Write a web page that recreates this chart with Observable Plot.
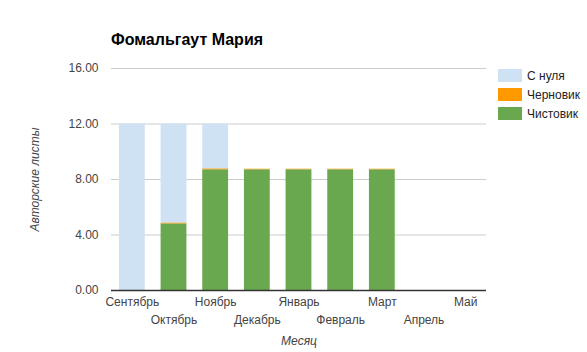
<!DOCTYPE html>
<html><head><meta charset="utf-8">
<script src="https://cdn.jsdelivr.net/npm/d3@7"></script>
<script src="https://cdn.jsdelivr.net/npm/@observablehq/plot@0.6"></script>
<style>
body{margin:0;background:#fff;font-family:"Liberation Sans",Arial,sans-serif;}
#wrap{position:relative;width:587px;height:352px;}
#title{position:absolute;left:111px;top:31px;font-size:16px;font-weight:bold;color:#000;}
#legend{position:absolute;left:498px;top:66px;font-size:12px;color:#222;}
.li{display:flex;align-items:center;height:19px;}
.sw{width:24px;height:13px;margin-right:5px;}
</style></head><body>
<div id="wrap"><div id="title">Фомальгаут Мария</div><div id="legend"></div></div>
<script>
const months = ["Сентябрь","Октябрь","Ноябрь","Декабрь","Январь","Февраль","Март","Апрель","Май"];
const seriesNames = ["С нуля","Черновик","Чистовик"];
const colors = ["#cfe2f3","#ff9900","#6aa84f"];
const fromScratch = [12, 7.13, 3.23, 0, 0, 0, 0, 0, 0];
const draft = [0, 0.07, 0.07, 0.04, 0.04, 0.04, 0.04, 0, 0];
const clean = [0, 4.8, 8.7, 8.7, 8.7, 8.7, 8.7, 0, 0];
const yTicks = [0, 4, 8, 12, 16];

const rows = [];
months.forEach((m, i) => {
  rows.push({month: m, series: "Чистовик", value: clean[i]});
  rows.push({month: m, series: "Черновик", value: draft[i]});
  rows.push({month: m, series: "С нуля", value: fromScratch[i]});
});
const even = months.filter((d, i) => i % 2 === 0);
const odd = months.filter((d, i) => i % 2 === 1);

const chart = Plot.plot({
  width: 587, height: 352,
  marginLeft: 111, marginRight: 101, marginTop: 68, marginBottom: 62,
  style: {fontFamily: '"Liberation Sans", Arial, sans-serif', fontSize: "12px", color: "#444", background: "transparent"},
  x: {domain: months, paddingInner: 0.38, paddingOuter: 0.19, round: false},
  y: {domain: [0, 16]},
  color: {domain: seriesNames, range: colors},
  marks: [
    Plot.gridY(yTicks, {stroke: "#ccc", strokeOpacity: 1}),
    Plot.barY(rows, {x: "month", y: "value", fill: "series", order: ["Чистовик","Черновик","С нуля"]}),
    Plot.ruleY([0], {stroke: "#333", strokeWidth: 1.5}),
    Plot.axisY({ticks: yTicks, tickSize: 0, tickPadding: 13, tickFormat: d3.format(".2f"), label: null}),
    Plot.axisX({ticks: even, tickSize: 0, tickPadding: 7, label: null}),
    Plot.axisX({ticks: odd, tickSize: 0, tickPadding: 25, label: null}),
    Plot.text(["Авторские листы"], {frameAnchor: "left", textAnchor: "middle", dx: -76, rotate: -90, fontStyle: "italic", fontSize: 12, fill: "#444"}),
    Plot.text(["Месяц"], {frameAnchor: "bottom", dy: 54, fontStyle: "italic", fontSize: 12, fill: "#444"})
  ]
});
chart.style.position = "absolute";
chart.style.left = "0"; chart.style.top = "0";
document.getElementById("wrap").prepend(chart);

const lg = document.getElementById("legend");
seriesNames.forEach((s, i) => {
  const d = document.createElement("div"); d.className = "li";
  d.innerHTML = `<div class="sw" style="background:${colors[i]}"></div><span>${s}</span>`;
  lg.appendChild(d);
});
</script></body></html>
